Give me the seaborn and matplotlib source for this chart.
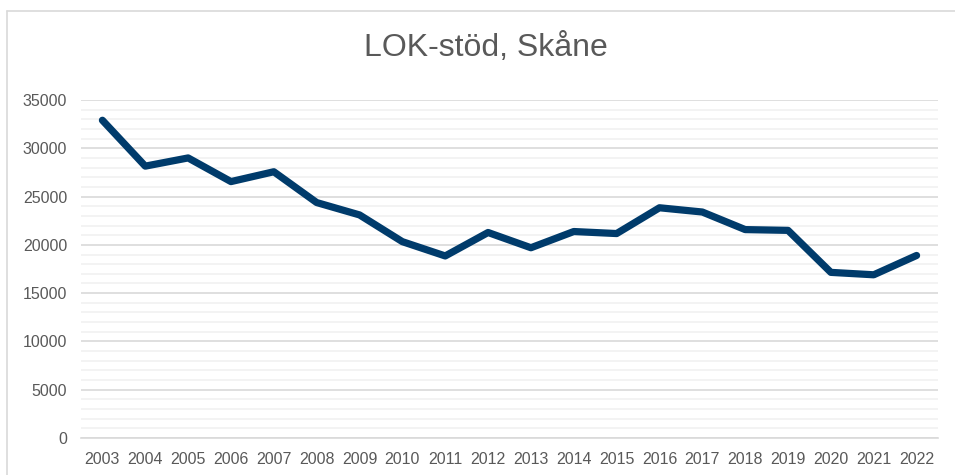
import matplotlib

matplotlib.use("Agg")
import matplotlib.pyplot as plt
import pandas as pd
import seaborn as sns
from matplotlib.lines import Line2D
from matplotlib.ticker import MultipleLocator

years = list(range(2003, 2023))
lok_stod = [
    32900, 28150, 29000, 26550, 27570, 24380, 23100, 20330, 18850, 21280,
    19700, 21380, 21170, 23840, 23400, 21580, 21500, 17150, 16900, 18900,
]
title = "LOK-stöd, Skåne"

sns.set_theme(style="white")
plt.rcParams["font.family"] = ["Liberation Sans", "DejaVu Sans"]

text_color = "#595959"
line_color = "#003B6B"

df = pd.DataFrame({"year": years, "value": lok_stod})

fig = plt.figure(figsize=(9.55, 4.75), dpi=100)
ax = fig.add_axes([0.0848, 0.0779, 0.8974, 0.7116])

sns.lineplot(data=df, x="year", y="value", ax=ax, color=line_color, linewidth=5.2,
             solid_capstyle="round", solid_joinstyle="round", zorder=3)

ax.set_xlim(years[0] - 0.5, years[-1] + 0.5)
ax.set_ylim(0, 35000)
ax.set_xticks(years)
ax.set_xticklabels([str(y) for y in years])
ax.yaxis.set_major_locator(MultipleLocator(5000))
ax.yaxis.set_minor_locator(MultipleLocator(1000))

ax.grid(axis="y", which="major", color="#D9D9D9", linewidth=1.2, zorder=1)
ax.grid(axis="y", which="minor", color="#F0F0F0", linewidth=1.1, zorder=0)
ax.grid(axis="x", visible=False)
ax.set_axisbelow(True)

ax.tick_params(axis="both", which="both", length=0, labelsize=11.5, labelcolor=text_color)
ax.tick_params(axis="x", pad=10)
ax.tick_params(axis="y", pad=10)

for side in ["top", "right", "left"]:
    ax.spines[side].set_visible(False)
ax.spines["bottom"].set_color("#D9D9D9")
ax.spines["bottom"].set_linewidth(1.2)

ax.set_xlabel("")
ax.set_ylabel("")

fig.text(0.509, 0.9, title, ha="center", va="center", fontsize=23, color=text_color)

# chart area border (only left and top visible in the crop)
fig.add_artist(Line2D([6.5 / 955, 6.5 / 955], [0, 1 - 10.5 / 475], transform=fig.transFigure,
                      color="#D9D9D9", linewidth=1.2))
fig.add_artist(Line2D([6.5 / 955, 1], [1 - 10.5 / 475, 1 - 10.5 / 475], transform=fig.transFigure,
                      color="#D9D9D9", linewidth=1.2))

fig.savefig("out.png", dpi=100)
plt.close(fig)
